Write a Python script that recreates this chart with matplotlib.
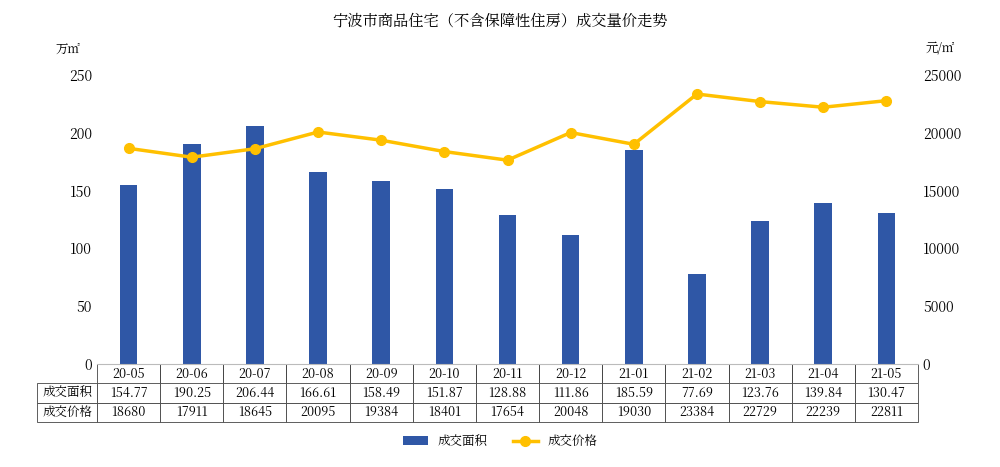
import matplotlib
matplotlib.use("Agg")
import matplotlib.pyplot as plt
from matplotlib import font_manager as fm
cjk = [f.name for f in fm.fontManager.ttflist if 'CJK' in f.name]
pref = [n for n in cjk if 'SC' in n] or cjk
plt.rcParams['font.family'] = 'sans-serif'
plt.rcParams['font.sans-serif'] = (pref[:1] if pref else []) + ['DejaVu Sans']

months = ["20-05","20-06","20-07","20-08","20-09","20-10","20-11","20-12","21-01","21-02","21-03","21-04","21-05"]
area = [154.77,190.25,206.44,166.61,158.49,151.87,128.88,111.86,185.59,77.69,123.76,139.84,130.47]
price = [18680,17911,18645,20095,19384,18401,17654,20048,19030,23384,22729,22239,22811]

fig = plt.figure(figsize=(10,4.67), dpi=100)
ax = fig.add_axes([0.097, 0.2206, 0.821, 0.618])
x = list(range(len(months)))
bars = ax.bar(x, area, width=0.28, color='#2F57A6', label='成交面积')
ax.set_xlim(-0.5, len(months)-0.5)
ax.set_ylim(0, 250)
ax.set_yticks(range(0, 251, 50))
ax.set_xticks([])
ax.tick_params(axis='y', length=0, labelsize=10)
for s in ['top','right','left']:
    ax.spines[s].set_visible(False)
ax.spines['bottom'].set_color('#bbbbbb')

ax2 = ax.twinx()
ln, = ax2.plot(x, price, color='#FFC000', lw=2.5, marker='o', ms=7, label='成交价格')
ax2.set_ylim(0, 25000)
ax2.set_yticks(range(0, 25001, 5000))
ax2.tick_params(axis='y', length=0, labelsize=10)
for s in ['top','right','left','bottom']:
    ax2.spines[s].set_visible(False)

rows = [months, [f"{v:.2f}" for v in area], [str(v) for v in price]]
tbl = ax.table(cellText=rows, rowLabels=['', '成交面积', '成交价格'],
               cellLoc='center', bbox=[0, -0.2007, 1, 0.2007])
tbl.auto_set_font_size(False)
tbl.set_fontsize(9)
for (r, c), cell in tbl.get_celld().items():
    cell.set_edgecolor('#444444')
    cell.set_linewidth(0.6)
    if r == 0 and c == -1:
        cell.set_edgecolor('white')
    if r == 0 and c >= 0:
        cell.visible_edges = 'LR'

fig.text(0.5, 0.955, '宁波市商品住宅（不含保障性住房）成交量价走势', ha='center', va='center', fontsize=11)
fig.text(0.068, 0.895, '万㎡', ha='center', va='center', fontsize=9)
fig.text(0.94, 0.895, '元/㎡', ha='center', va='center', fontsize=9)
fig.legend(handles=[bars, ln], loc='center', bbox_to_anchor=(0.5, 0.055), ncol=2, frameon=False, fontsize=9)
fig.savefig('out.png', dpi=100)
